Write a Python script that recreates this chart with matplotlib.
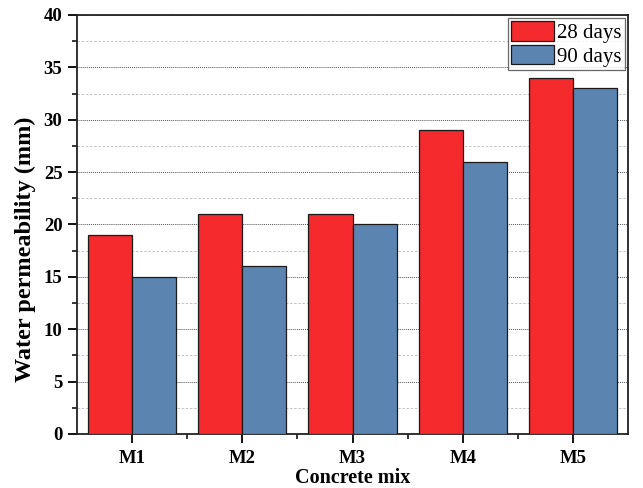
import matplotlib
matplotlib.use("Agg")
import matplotlib.pyplot as plt
import numpy as np
from matplotlib.ticker import MultipleLocator, FixedLocator

mixes = ["M1", "M2", "M3", "M4", "M5"]
days_28 = [19, 21, 21, 29, 34]
days_90 = [15, 16, 20, 26, 33]
series_labels = ["28 days", "90 days"]

plt.rcParams["font.family"] = ["Liberation Serif", "DejaVu Serif"]

fig = plt.figure(figsize=(6.43, 4.88), dpi=100)
ax = fig.add_axes([0.1198, 0.1107, 0.8569, 0.8586])

x = np.arange(1, len(mixes) + 1)
w = 0.4
ax.bar(x - w / 2, days_28, width=w, color="#F42A2D", edgecolor="#1a1a1a",
       linewidth=0.9, label=series_labels[0], zorder=3)
ax.bar(x + w / 2, days_90, width=w, color="#5B84B1", edgecolor="#1a1a1a",
       linewidth=0.9, label=series_labels[1], zorder=3)

ax.set_xlim(0.5, 5.5)
ax.set_ylim(0, 40)
ax.set_xticks(x)
ax.set_xticklabels(mixes, fontsize=13.5, fontweight="bold")
ax.xaxis.set_minor_locator(FixedLocator(np.arange(1.5, 5.0, 1.0)))
ax.yaxis.set_major_locator(MultipleLocator(5))
ax.yaxis.set_minor_locator(MultipleLocator(2.5))
for lbl in ax.get_yticklabels():
    lbl.set_fontsize(13.5)
    lbl.set_fontweight("bold")

ax.tick_params(which="major", direction="out", length=6.5, width=1.3, pad=4, top=False, right=False)
ax.tick_params(which="minor", direction="out", length=3.5, width=1.1, top=False, right=False)
ax.tick_params(axis="x", which="major", pad=5)

ax.grid(which="major", axis="y", linestyle=(0, (1, 1)), color="#555555", linewidth=0.7, zorder=0)
ax.grid(which="minor", axis="y", linestyle=(0, (3, 2)), color="#bbbbbb", linewidth=0.6, zorder=0)

for s in ax.spines.values():
    s.set_linewidth(1.3)
    s.set_color("#222222")

ax.set_xlabel("Concrete mix", fontsize=14.5, fontweight="bold")
ax.xaxis.label.set_verticalalignment("baseline")
ax.xaxis.set_label_coords(0.5, -0.117)

ax.set_ylabel("Water permeability (mm)", fontsize=17.5, fontweight="bold")
ax.yaxis.label.set_verticalalignment("center")
ax.yaxis.set_label_coords(-0.094, 0.44)

leg = ax.legend(loc="upper right", fontsize=15, frameon=True, fancybox=False,
                handlelength=2.05, handleheight=1.05, handletextpad=0.15,
                borderpad=0.15, labelspacing=0.1, borderaxespad=0.15)
leg.get_frame().set_edgecolor("#444444")
leg.get_frame().set_linewidth(0.9)

fig.savefig("out.png", dpi=100)
